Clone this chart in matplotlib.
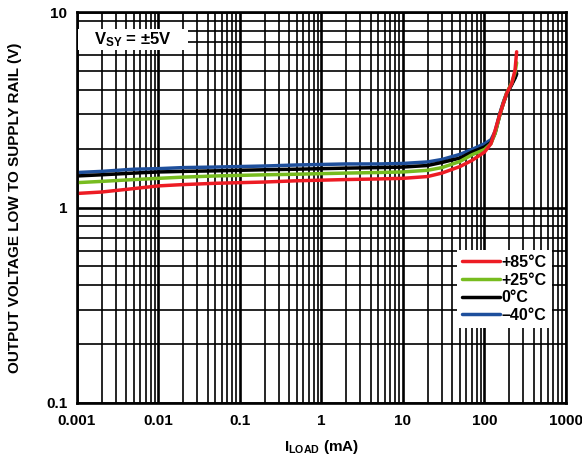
import numpy as np
import matplotlib as mpl
mpl.use('Agg')
import matplotlib.pyplot as plt
from matplotlib.patches import Rectangle
from matplotlib.ticker import LogLocator, FixedFormatter, NullFormatter, FixedLocator

plt.rcParams['font.family'] = ['Liberation Sans', 'DejaVu Sans']
plt.rcParams['font.weight'] = 'bold'
plt.rcParams['axes.labelweight'] = 'bold'
plt.rcParams['mathtext.fontset'] = 'custom'
plt.rcParams['mathtext.rm'] = 'Liberation Sans:bold'
plt.rcParams['mathtext.it'] = 'Liberation Sans:bold'
plt.rcParams['mathtext.bf'] = 'Liberation Sans:bold'

# load current (mA)
i_load = [0.001, 0.002, 0.005, 0.01, 0.02, 0.05, 0.1, 0.2, 0.5, 1, 2, 5, 10,
          20, 30, 50, 70, 100, 120, 135, 155, 170, 187, 216, 237, 248]

# output voltage low to supply rail (V) per temperature
v_85c = [1.18, 1.20, 1.25, 1.29, 1.31, 1.33, 1.34, 1.35, 1.37, 1.38, 1.39, 1.40, 1.41,
         1.44, 1.50, 1.62, 1.74, 1.92, 2.12, 2.48, 3.02, 3.40, 3.83, 4.31, 5.05, 6.26]
v_25c = [1.34, 1.36, 1.39, 1.41, 1.43, 1.45, 1.46, 1.47, 1.48, 1.49, 1.50, 1.51, 1.52,
         1.55, 1.60, 1.72, 1.86, 1.98, 2.12, 2.40, 3.00, 3.40, 3.85, 4.35, 4.90, 5.50]
v_0c = [1.45, 1.47, 1.50, 1.52, 1.53, 1.54, 1.55, 1.56, 1.57, 1.58, 1.59, 1.60, 1.61,
        1.64, 1.70, 1.79, 1.92, 2.04, 2.15, 2.40, 3.00, 3.40, 3.80, 4.25, 4.60, 4.85]
v_m40c = [1.51, 1.53, 1.57, 1.58, 1.60, 1.61, 1.62, 1.63, 1.65, 1.66, 1.67, 1.67, 1.68,
          1.71, 1.76, 1.87, 1.98, 2.12, 2.22, 2.45, 3.05, 3.45, 3.85, 4.30, 4.60, 4.80]

labels = ['+85°C', '+25°C', '0°C', '–40°C']
colors = ['#ed1c24', '#77bc1f', '#000000', '#1e4f9c']
series = [v_85c, v_25c, v_0c, v_m40c]

x_ticks = [0.001, 0.01, 0.1, 1, 10, 100, 1000]
x_ticklabels = ['0.001', '0.01', '0.1', '1', '10', '100', '1000']
y_ticks = [0.1, 1, 10]
y_ticklabels = ['0.1', '1', '10']

fig = plt.figure(figsize=(5.82, 4.57), dpi=100)
ax = fig.add_axes([0.1323, 0.1182, 0.8402, 0.8555])
ax.set_xscale('log')
ax.set_yscale('log')
ax.set_xlim(0.001, 1000)
ax.set_ylim(0.1, 10)

# dense black grid, decades a bit heavier
ax.xaxis.set_major_locator(FixedLocator(x_ticks))
ax.xaxis.set_major_formatter(FixedFormatter(x_ticklabels))
ax.xaxis.set_minor_locator(LogLocator(base=10, subs=np.arange(2, 10), numticks=20))
ax.xaxis.set_minor_formatter(NullFormatter())
ax.yaxis.set_major_locator(FixedLocator(y_ticks))
ax.yaxis.set_major_formatter(FixedFormatter(y_ticklabels))
ax.yaxis.set_minor_locator(LogLocator(base=10, subs=np.arange(2, 10), numticks=20))
ax.yaxis.set_minor_formatter(NullFormatter())
ax.grid(which='major', color='black', linewidth=1.9)
ax.grid(which='minor', color='black', linewidth=1.2)
ax.set_axisbelow(True)
ax.tick_params(which='both', length=0, labelsize=11)
ax.tick_params(axis='x', pad=8)
ax.tick_params(axis='y', pad=7)
for sp in ax.spines.values():
    sp.set_linewidth(1.9)

# draw -40 first so +85 ends up on top
for v, lab, c in reversed(list(zip(series, labels, colors))):
    ax.plot(i_load, v, color=c, linewidth=2.5, label=lab, solid_capstyle='round')

handles, leg_labels = ax.get_legend_handles_labels()
leg = ax.legend(handles[::-1], leg_labels[::-1], loc='upper left',
                bbox_to_anchor=(0.777, 0.391), borderaxespad=0, fontsize=11.5,
                frameon=True, fancybox=False, framealpha=1, edgecolor='white',
                handlelength=2.4, handletextpad=0.1, labelspacing=0.17, borderpad=0.3)
leg.get_frame().set_linewidth(0)

# supply annotation on a white patch
ax.add_patch(Rectangle((0.003, 0.903), 0.224, 0.054, transform=ax.transAxes,
                       facecolor='white', edgecolor='none', zorder=3))
ax.text(0.113, 0.930, r'$\mathrm{V_{SY}}$ = ±5V', transform=ax.transAxes,
        ha='center', va='center', fontsize=12, zorder=4)

ax.set_xlabel(r'$\mathrm{I_{LOAD}}$ (mA)', fontsize=11, labelpad=7)
ax.set_ylabel('OUTPUT VOLTAGE LOW TO SUPPLY RAIL (V)', fontsize=11, labelpad=17)

fig.savefig('out.png', dpi=100)
plt.close(fig)
